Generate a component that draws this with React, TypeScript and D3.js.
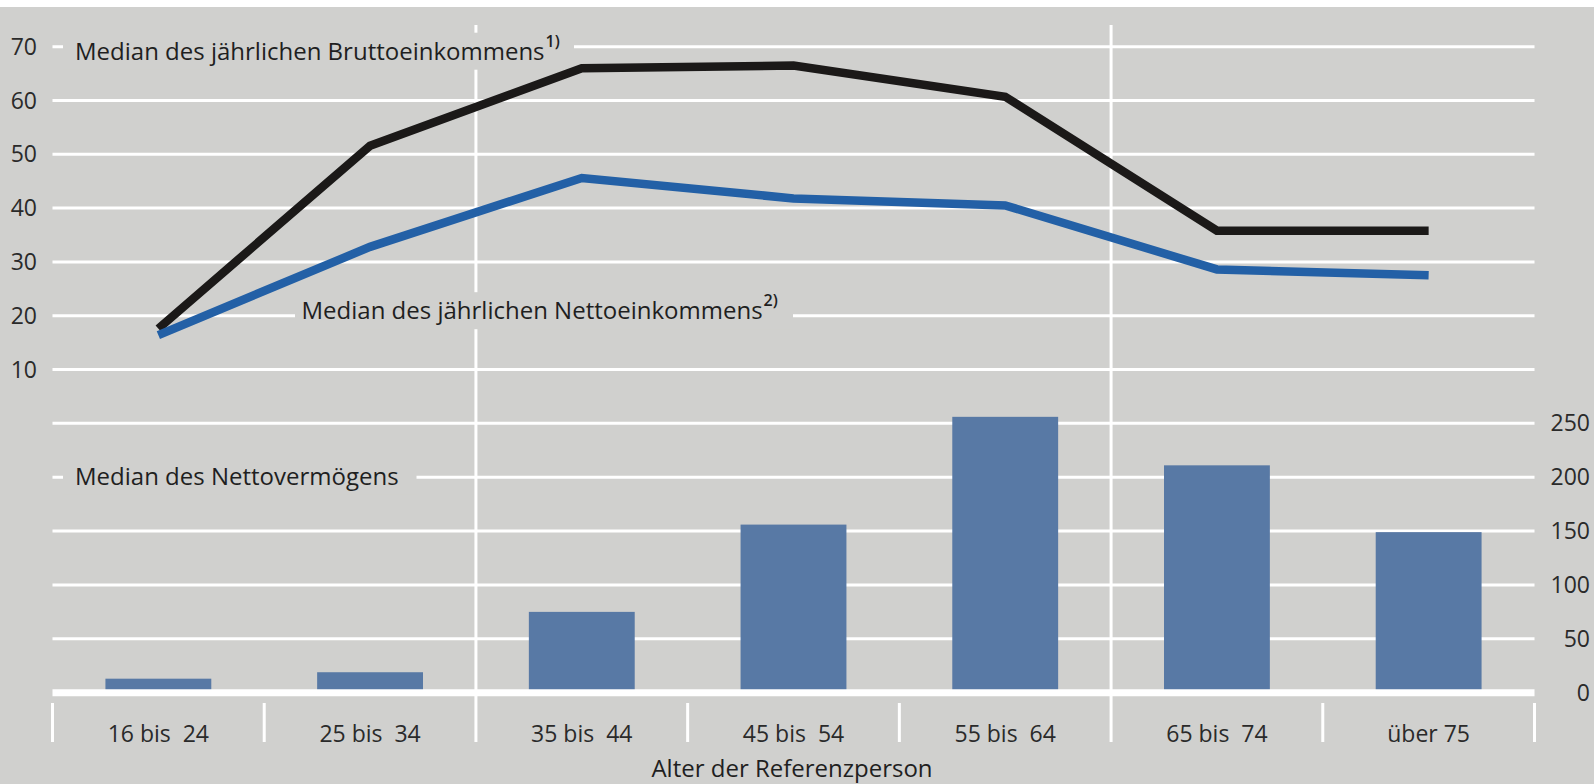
import React from "react";
import * as d3 from "d3";

const categories = ["16 bis  24", "25 bis  34", "35 bis  44", "45 bis  54", "55 bis  64", "65 bis  74", "über 75"];
const brutto = [17.6, 51.6, 66.0, 66.5, 60.7, 35.8, 35.8];
const netto = [16.4, 32.8, 45.6, 41.8, 40.5, 28.6, 27.5];
const vermoegen = [13, 19, 75, 156, 256, 211, 149];
const leftTicks = [10, 20, 30, 40, 50, 60, 70];
const rightTicks = [0, 50, 100, 150, 200, 250];
const groupBreaks = [2, 5]; // long vertical dividers before these category indices

const W = 1594;
const H = 784;
const FONT = "'Open Sans', 'Noto Sans', sans-serif";
const BG = "#d0d0ce";
const BAR = "#5879a5";
const BLUE = "#2360a6";
const BLACK = "#1b1918";
const TEXT = "#1f1f1f";

export default function App() {
  const x = d3.scaleBand<string>().domain(categories).range([52.5, 1534.5]).paddingInner(0).paddingOuter(0);
  const bw = x.bandwidth();
  const yL = d3.scaleLinear().domain([0, 70]).range([423.3, 46.7]);
  const yR = d3.scaleLinear().domain([0, 250]).range([692.7, 423.3]);
  const cx = (c: string) => (x(c) as number) + bw / 2;

  const lineGen = d3
    .line<number>()
    .x((_, i) => cx(categories[i]))
    .y((v) => yL(v));

  const boundaries = d3.range(categories.length + 1).map((i) => 52.5 + i * bw);

  const labels = [
    { text: "Median des jährlichen Bruttoeinkommens", sup: "1)", x: 75, y: yL(70) + 13, gapL: 63, gapR: 574 },
    { text: "Median des jährlichen Nettoeinkommens", sup: "2)", x: 301.5, y: yL(20) + 3.5, gapL: 295, gapR: 793 },
    { text: "Median des Nettovermögens", sup: "", x: 75, y: yR(200) + 7.5, gapL: 63, gapR: 416.5 },
  ];

  return (
    <svg
      width={W}
      height={H}
      style={{ position: "absolute", left: 0, top: 0, fontFamily: FONT }}
    >
      <rect x={0} y={0} width={W} height={H} fill="#ffffff" />
      <rect x={0} y={7} width={W} height={H - 7} fill={BG} />

      {/* horizontal gridlines */}
      {leftTicks.map((t) => (
        <line key={"gl" + t} x1={52.5} x2={1534.5} y1={yL(t)} y2={yL(t)} stroke="#fff" strokeWidth={3} />
      ))}
      {rightTicks.filter((t) => t > 0).map((t) => (
        <line key={"gr" + t} x1={52.5} x2={1534.5} y1={yR(t)} y2={yR(t)} stroke="#fff" strokeWidth={3} />
      ))}

      {/* category tick marks */}
      {boundaries.map((b, i) => (
        <line
          key={"tk" + i}
          x1={b}
          x2={b}
          y1={groupBreaks.includes(i) ? 25 : 703}
          y2={742}
          stroke="#fff"
          strokeWidth={3}
        />
      ))}

      {/* label backgrounds */}
      {labels.map((l, i) => (
        <rect key={"lb" + i} x={l.gapL} y={l.y - 27} width={l.gapR - l.gapL} height={37} fill={BG} />
      ))}

      {/* bars */}
      {vermoegen.map((v, i) => (
        <rect
          key={"b" + i}
          x={(x(categories[i]) as number) + bw * 0.25}
          width={bw * 0.5}
          y={yR(v)}
          height={yR(0) - yR(v)}
          fill={BAR}
        />
      ))}

      {/* baseline */}
      <line x1={52.5} x2={1534.5} y1={yR(0)} y2={yR(0)} stroke="#fff" strokeWidth={7} />

      {/* lines */}
      <path d={lineGen(brutto) || ""} fill="none" stroke={BLACK} strokeWidth={8.5} strokeLinejoin="miter" strokeLinecap="butt" />
      <path d={lineGen(netto) || ""} fill="none" stroke={BLUE} strokeWidth={8.5} strokeLinejoin="miter" strokeLinecap="butt" />

      {/* left tick labels */}
      {leftTicks.map((t) => (
        <text key={"tl" + t} x={37} y={yL(t)} dy="0.35em" textAnchor="end" fontSize={23} fill="#2a2a2a">
          {t}
        </text>
      ))}
      {/* right tick labels */}
      {rightTicks.map((t) => (
        <text key={"tr" + t} x={1590} y={yR(t)} dy="0.35em" textAnchor="end" fontSize={23} fill="#2a2a2a">
          {t}
        </text>
      ))}

      {/* category labels */}
      {categories.map((c) => (
        <text key={"c" + c} x={cx(c)} y={742} textAnchor="middle" fontSize={23} fill="#2a2a2a" style={{ whiteSpace: "pre" }}>
          {c}
        </text>
      ))}

      <text x={792} y={777} textAnchor="middle" fontSize={24} fill={TEXT}>
        Alter der Referenzperson
      </text>

      {/* series labels */}
      {labels.map((l, i) => (
        <text key={"lt" + i} x={l.x} y={l.y} fontSize={24} fill={TEXT}>
          {l.text}
          {l.sup ? (
            <tspan dx={1} dy={-13} fontSize={16} fontWeight={600}>
              {l.sup}
            </tspan>
          ) : null}
        </text>
      ))}
    </svg>
  );
}
